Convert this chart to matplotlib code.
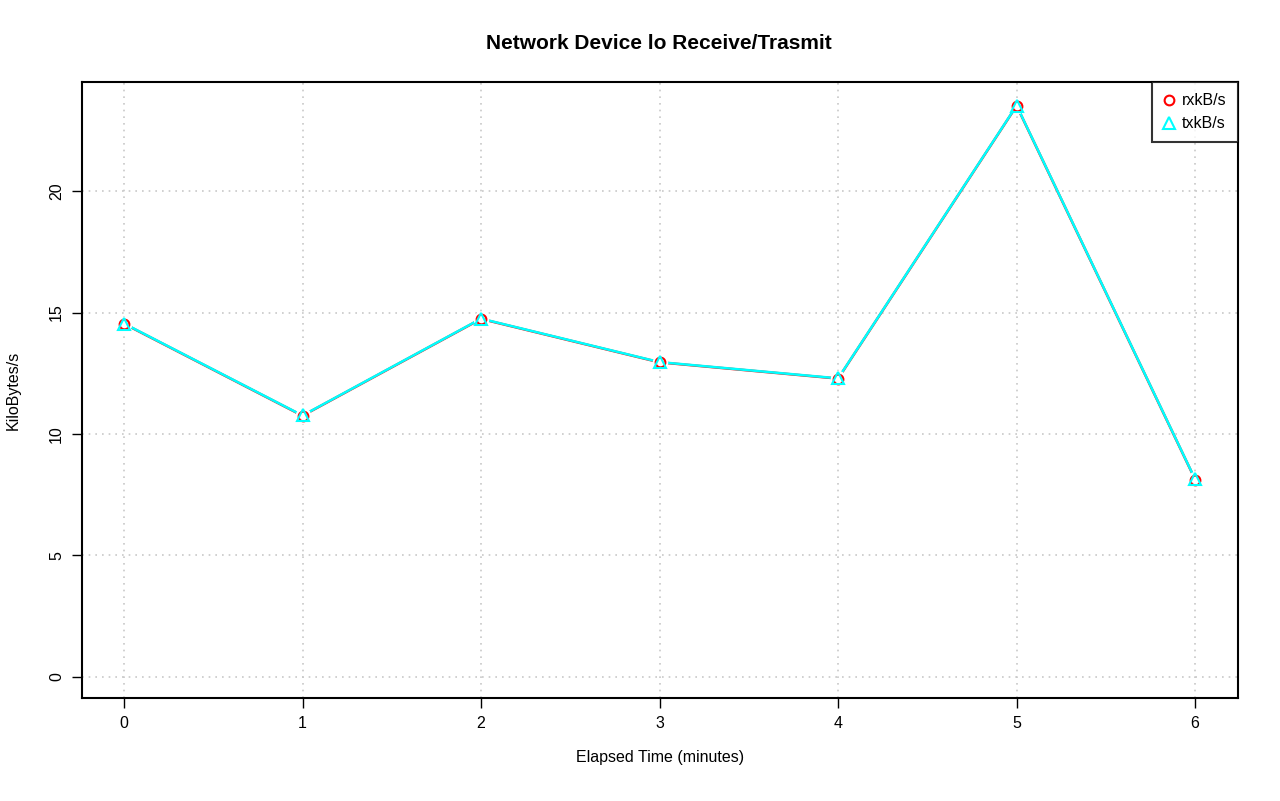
import numpy as np
from matplotlib import pyplot as plt

plt.rcParams['font.family'] = ['Liberation Sans', 'DejaVu Sans']

# data
minutes = [0, 1, 2, 3, 4, 5, 6]
rxkb = [14.54, 10.75, 14.74, 12.95, 12.28, 23.52, 8.12]
txkb = [14.55, 10.76, 14.75, 12.96, 12.29, 23.53, 8.13]
xticks = [0, 1, 2, 3, 4, 5, 6]
yticks = [0, 5, 10, 15, 20]

fig = plt.figure(figsize=(12.8, 8.01), dpi=100)
ax = fig.add_axes([0.0641, 0.1286, 0.9031, 0.769])

ax.grid(True, color='#c8c8c8', linestyle=(0, (1, 3)), linewidth=1.2)
ax.set_axisbelow(True)

# R-style type="b": lines broken around points
for ys, col in [(rxkb, 'red'), (txkb, 'cyan')]:
  ax.plot(minutes, ys, '-', color=col, linewidth=1.8, zorder=2)
for ys in [rxkb, txkb]:
  ax.plot(minutes, ys, 'o', color='white', markersize=11, markeredgewidth=0, zorder=3)
ax.plot(minutes, rxkb, 'o', color='red', markerfacecolor='none', markersize=7,
        markeredgewidth=1.5, zorder=4, label='rxkB/s')
ax.plot(minutes, txkb, '^', color='cyan', markerfacecolor='none', markersize=8,
        markeredgewidth=1.5, zorder=5, label='txkB/s')

ax.set_xlim(-0.235, 6.24)
ax.set_ylim(-0.88, 24.5)
ax.set_xticks(xticks)
ax.set_yticks(yticks)
ax.tick_params(direction='out', length=7, width=1, labelsize=11.5, pad=6)
for lbl in ax.get_yticklabels():
  lbl.set_rotation(90)
  lbl.set_va('center')
for s in ax.spines.values():
  s.set_linewidth(1.5)

ax.set_xlabel('Elapsed Time (minutes)', fontsize=11.5, labelpad=14)
ax.set_ylabel('KiloBytes/s', fontsize=11.5, labelpad=20)
fig.text(0.515, 0.946, 'Network Device lo Receive/Trasmit', ha='center', va='center',
         fontsize=15, fontweight='bold')

leg = ax.legend(loc='upper right', fontsize=11.5, frameon=True, fancybox=False,
                edgecolor='black', borderaxespad=0, handlelength=0.8,
                handletextpad=0.4, borderpad=0.7, labelspacing=0.5)
leg.get_frame().set_linewidth(1.5)

plt.savefig('out.png', dpi=100)
